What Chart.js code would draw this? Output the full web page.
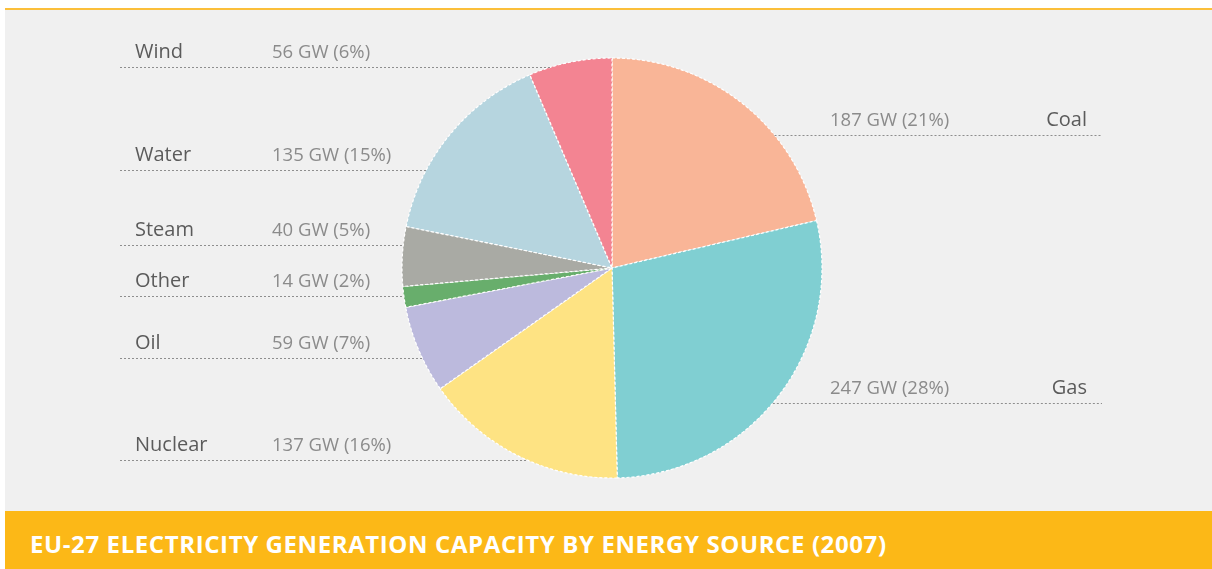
<!DOCTYPE html>
<html>
<head>
<meta charset="utf-8">
<title>EU-27 electricity generation capacity by energy source (2007)</title>
<script src="https://cdn.jsdelivr.net/npm/chart.js@4.4.1/dist/chart.umd.min.js"></script>
<style>
  html, body { margin: 0; padding: 0; background: #fff; }
  body { width: 1212px; height: 569px; position: relative; overflow: hidden; font-family: "Open Sans", sans-serif; }
  #panel { position: absolute; left: 5px; top: 8px; right: 0; height: 502px; background: #f0f0f0; border-top: 2px solid #fbbf3a; }
  #banner { position: absolute; left: 5px; top: 511px; right: 0; bottom: 0; background: #fcb817; color: #fff;
            font-weight: 700; font-size: 24px; letter-spacing: 0.6px; line-height: 58px; padding: 4px 0 0 25px;
            white-space: nowrap; box-sizing: border-box; }
  #wrap { position: absolute; left: 0; top: 0; width: 1212px; height: 569px; }
</style>
</head>
<body>
<div id="panel"></div>
<div id="banner">EU-27 ELECTRICITY GENERATION CAPACITY BY ENERGY SOURCE (2007)</div>
<div id="wrap"><canvas id="chart"></canvas></div>
<script>
// clockwise from 12 o'clock
const sources = ["Coal", "Gas", "Nuclear", "Oil", "Other", "Steam", "Water", "Wind"];
const capacityGW = [187, 247, 137, 59, 14, 40, 135, 56];
const sharePct = [21, 28, 16, 7, 2, 5, 15, 6];
const colors = ["#f9b597", "#80cfd2", "#fee383", "#bcbadd", "#68ae6c", "#a9aaa4", "#b6d5df", "#f38492"];

// label rows (where the dotted leader line sits) and which side they go on
const rowY = [135, 403, 460, 358, 296, 245, 170, 67];
const rowSide = ["right", "right", "left", "left", "left", "left", "left", "left"];

const leaders = {
  id: "leaders",
  afterDatasetsDraw(chart) {
    const arc = chart.getDatasetMeta(0).data[0];
    const cx = arc.x, cy = arc.y, r = arc.outerRadius;
    const ctx = chart.ctx;
    ctx.save();
    sources.forEach((name, i) => {
      const y = rowY[i];
      const dy = y - cy;
      const dx = Math.sqrt(Math.max(r * r - dy * dy, 0));
      const left = rowSide[i] === "left";
      const value = `${capacityGW[i]} GW (${sharePct[i]}%)`;

      ctx.beginPath();
      ctx.setLineDash([2, 2]);
      ctx.strokeStyle = "#8e8e8e";
      ctx.lineWidth = 1;
      if (left) {
        ctx.moveTo(120, y + 0.5);
        ctx.lineTo(cx - dx, y + 0.5);
      } else {
        ctx.moveTo(cx + dx, y + 0.5);
        ctx.lineTo(1102, y + 0.5);
      }
      ctx.stroke();

      ctx.textBaseline = "alphabetic";
      ctx.font = '20px "Open Sans"';
      ctx.fillStyle = "#5b5b5b";
      ctx.textAlign = left ? "left" : "right";
      ctx.fillText(name, left ? 135 : 1087, y - 9);

      ctx.font = '18.5px "Open Sans"';
      ctx.fillStyle = "#8b8b8b";
      ctx.textAlign = "left";
      ctx.fillText(value, left ? 272 : 830, y - 9);
    });
    ctx.restore();
  },
};

new Chart(document.getElementById("chart"), {
  type: "pie",
  data: {
    labels: sources,
    datasets: [{
      data: capacityGW,
      backgroundColor: colors,
      borderColor: "#ffffff",
      borderWidth: 1.2,
      borderDash: [3, 2],
    }],
  },
  options: {
    responsive: true,
    maintainAspectRatio: false,
    animation: false,
    radius: 210,
    layout: { padding: { left: 402, right: 390, top: 58, bottom: 91 } },
    plugins: {
      legend: { display: false },
      tooltip: { enabled: false },
    },
  },
  plugins: [leaders],
});
</script>
</body>
</html>
